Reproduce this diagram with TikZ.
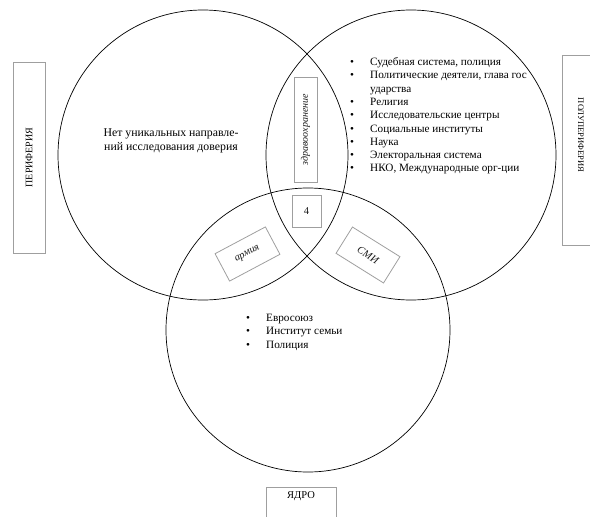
\documentclass[tikz,border=0pt]{standalone}
\usepackage{fontspec}
\setmainfont{Liberation Serif}
\usetikzlibrary{positioning}

\begin{document}
\begin{tikzpicture}[
    x=1pt, y=-1pt,
    zone/.style={draw=black, line width=0.7pt},
    sidebox/.style={draw=gray!75, line width=0.8pt, inner sep=0pt, text=black, font=\fontsize{10}{12}\selectfont},
    tagbox/.style={draw=gray!75, line width=0.8pt, inner sep=0pt, text=black!90, font=\fontsize{10.5}{12}\selectfont\itshape},
    listtext/.style={inner sep=0pt, anchor=north west, text=black, font=\fontsize{11.2}{13.3}\selectfont}
]
\useasboundingbox (0,0) rectangle (590,517);

% Circles
\draw [zone] (203,155) circle [radius=145];
\draw [zone] (411,155) circle [radius=145];
\draw [zone] (308,330) circle [radius=142];

% Side labels
\node (periph) [sidebox, rotate=90, minimum width=191pt, minimum height=32pt] at (29,157.5) {ПЕРИФЕРИЯ};
\node (semi) [sidebox, rotate=-90, text width=190pt, align=center, minimum height=38pt, font=\fontsize{8.5}{10}\selectfont] at (581,150) {ПОЛУПЕРИФЕРИЯ\hspace*{30pt}};
\node (core) [sidebox, anchor=north, minimum width=70pt, text height=7pt, text depth=28pt, inner ysep=4pt, font=\fontsize{10.5}{12}\selectfont] at (301,487) {ЯДРО};

% Overlap tags
\node (health) [tagbox, rotate=90, minimum width=105pt, minimum height=23pt, font=\fontsize{10}{12}\selectfont\itshape] at (305.5,129.5) {здравоохранение};
\node (four) [tagbox, font=\fontsize{10.5}{12}\selectfont, minimum width=29pt, minimum height=32pt] at (306.5,211) {4};
\node (army) [tagbox, rotate=28, minimum width=57pt, minimum height=31pt] at (247.5,254) {армия};
\node (media) [tagbox, rotate=-32, minimum width=56pt, minimum height=31pt] at (368,255) {СМИ};

% Texts
\node (none) [listtext, anchor=center, align=center, font=\fontsize{11.8}{13.3}\selectfont] at (171,141) {Нет уникальных направле-\\ний исследования доверия};

\node (semilist) [listtext] at (350,56) {%
\begin{tabular}{@{}p{20pt}@{}l@{}}
\textbullet & Судебная система, полиция\\
\textbullet & Политические деятели, глава гос\\
 & ударства\\
\textbullet & Религия\\
\textbullet & Исследовательские центры\\
\textbullet & Социальные институты\\
\textbullet & Наука\\
\textbullet & Электоральная система\\
\textbullet & НКО, Международные орг-ции
\end{tabular}};

\node (corelist) [listtext] at (246,312) {%
\begin{tabular}{@{}p{20pt}@{}l@{}}
\textbullet & Евросоюз\\
\textbullet & Институт семьи\\
\textbullet & Полиция
\end{tabular}};

\end{tikzpicture}
\end{document}
